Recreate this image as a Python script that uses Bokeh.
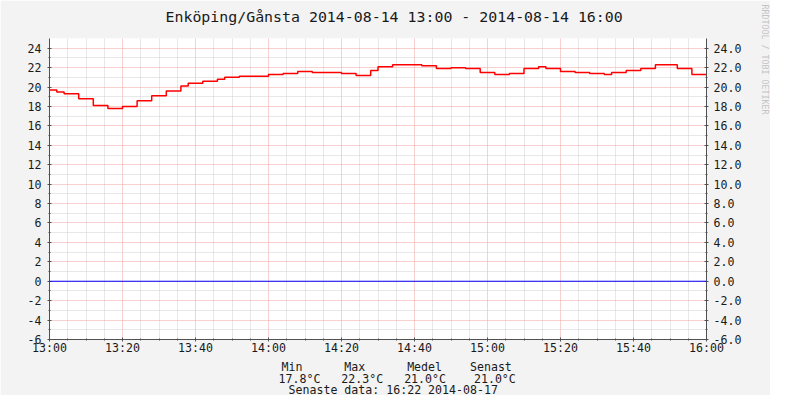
import pandas as pd
from bokeh.plotting import figure
from bokeh.models import (Range1d, LinearAxis, FixedTicker, DatetimeTickFormatter,
                          PrintfTickFormatter, Title, Span)
from bokeh.embed import file_html
from bokeh.resources import INLINE

# ---------------- data ----------------
day = "2014-08-14"
step_times = ["13:00", "13:02", "13:04", "13:08", "13:12", "13:16", "13:20", "13:24", "13:28", "13:32",
              "13:36", "13:38", "13:42", "13:46", "13:48", "13:52", "14:00", "14:04", "14:08", "14:12",
              "14:20", "14:24", "14:28", "14:30", "14:34", "14:42", "14:46", "14:50", "14:54", "14:58",
              "15:02", "15:06", "15:10", "15:14", "15:16", "15:20", "15:24", "15:28", "15:32", "15:34",
              "15:38", "15:42", "15:46", "15:52", "15:56", "16:00"]
temps = [19.7, 19.5, 19.3, 18.8, 18.1, 17.8, 18.0, 18.6, 19.1, 19.6,
         20.1, 20.4, 20.6, 20.8, 21.0, 21.1, 21.3, 21.4, 21.6, 21.5,
         21.4, 21.2, 21.7, 22.1, 22.3, 22.2, 21.9, 22.0, 21.9, 21.5,
         21.3, 21.4, 21.9, 22.1, 21.9, 21.6, 21.5, 21.4, 21.3, 21.5,
         21.7, 21.9, 22.3, 21.9, 21.3, 21.3]
baseline_value = 0.0

x_major_labels = ["13:00", "13:20", "13:40", "14:00", "14:20", "14:40", "15:00", "15:20", "15:40", "16:00"]
y_major_ticks = list(range(-6, 25, 2))
y_minor_ticks = list(range(-5, 25, 2))

title_text = "Enköping/Gånsta 2014-08-14 13:00 - 2014-08-14 16:00"
stat_names = ["Min", "Max", "Medel", "Senast"]
stat_values = ["17.8°C", "22.3°C", "21.0°C", "21.0°C"]
footer_text = "Senaste data: 16:22 2014-08-17"
credit_text = "RRDTOOL / TOBI OETIKER"

# ---------------- helpers ----------------
def ts(hm):
    return pd.Timestamp(f"{day} {hm}")

def ms(t):
    return t.value // 10**6

x = [ts(t) for t in step_times]
t0, t1 = ts("13:00"), ts("16:00")
major_ms = [ms(ts(t)) for t in x_major_labels]
minor_ms = [ms(t0) + i * 5 * 60 * 1000 for i in range(0, 37) if i % 4 != 0]

FONT = "DejaVu Sans Mono"
AXIS_COL = "#505050"
TXT_COL = "#1a1a1a"
NB = "\u00a0"

W, H = 770, 395
FL, FT, FRX, FBY = 49, 38, 706, 340      # frame edges in canvas px

p = figure(width=W, height=H, x_axis_type="datetime", output_backend="svg",
           toolbar_location=None, min_border_left=FL, min_border_right=W - FRX,
           min_border_top=FT, min_border_bottom=H - FBY,
           background_fill_color="white", border_fill_color="#F3F3F3",
           outline_line_color=None, title=None,
           x_range=Range1d(t0, t1), y_range=Range1d(-6, 25.0))

# axes
xa = p.xaxis[0]
xa.ticker = FixedTicker(ticks=major_ms, minor_ticks=minor_ms)
fmt = "%H:%M"
xa.formatter = DatetimeTickFormatter(microseconds=fmt, milliseconds=fmt, seconds=fmt,
                                     minsec=fmt, minutes=fmt, hourmin=fmt, hours=fmt,
                                     days=fmt, context=None)
ya = p.yaxis[0]
ya.ticker = FixedTicker(ticks=y_major_ticks, minor_ticks=y_minor_ticks)
ya.formatter = PrintfTickFormatter(format="%d")
ra = LinearAxis(ticker=FixedTicker(ticks=y_major_ticks, minor_ticks=y_minor_ticks),
                formatter=PrintfTickFormatter(format="%.1f"))
p.add_layout(ra, "right")

for ax in (xa, ya, ra):
    ax.axis_line_color = AXIS_COL
    ax.major_tick_line_color = AXIS_COL
    ax.minor_tick_line_color = AXIS_COL
    ax.major_tick_in = 2
    ax.major_tick_out = 2
    ax.minor_tick_in = 1
    ax.minor_tick_out = 1
    ax.major_label_text_font = FONT
    ax.major_label_text_font_size = "11.6px"
    ax.major_label_text_color = TXT_COL
xa.major_label_standoff = -1
ya.major_label_standoff = 6
ra.major_label_standoff = 5

for g in (p.xgrid[0], p.ygrid[0]):
    g.grid_line_color = "#F2A0A0"
    g.grid_line_dash = "1 1"
    g.minor_grid_line_color = "#D0D0D0"
    g.minor_grid_line_dash = "1 1"

# series
p.add_layout(Span(location=baseline_value, dimension="width", line_color="#0000FF", line_width=1.2))
p.step(x, temps, mode="after", line_color="#FF0000", line_width=1.5)

# texts as layout titles (stacked outward from the plot area in order of adding)
def title(text, side, offset, standoff, size, color=TXT_COL, valign="bottom"):
    t = Title(text=text, align="left", offset=offset, standoff=standoff,
              vertical_align=valign,
              text_font=FONT, text_font_size=size, text_font_style="normal",
              text_color=color, text_line_height=1.0)
    p.add_layout(t, side)

def row(items, cols):
    s = ""
    for it, c in zip(items, cols):
        s += NB * (c - len(s)) + it
    return s

# above: spacer, then the main title
title(NB, "above", 0, 10.2, "1px")
title(title_text, "above", 165 - FL, 0, "14.9px")

# below: stats rows and footer
title(row(stat_names, [0, 9, 18, 27]), "below", 281 - FL, 0, "11.6px")
title(row(stat_values, [0, 9, 18, 28]), "below", 278 - FL, -8, "11.6px")
title(footer_text, "below", 288 - FL, -2, "11.6px")

# right: spacer, then the vertical credit
title(NB, "right", 0, 14.2, "1px")
title(credit_text, "right", 4 - FT, -4, "8.3px", color="#C4C4C4")

open("out.html", "w").write(file_html(p, INLINE))
